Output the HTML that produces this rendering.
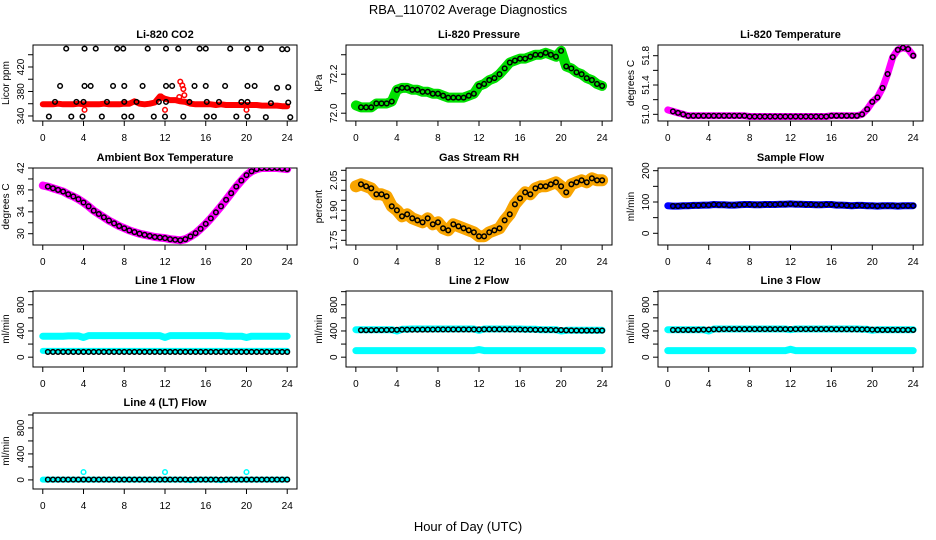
<!DOCTYPE html>
<html><head><meta charset="utf-8">
<style>
html,body{margin:0;padding:0;background:#fff;}
svg{display:block;font-family:"Liberation Sans",Arial,sans-serif;}
</style></head>
<body>
<svg id="chart" width="936" height="540" viewBox="0 0 936 540" xmlns="http://www.w3.org/2000/svg">
<text x="468" y="14" text-anchor="middle" font-size="13">RBA_110702  Average Diagnostics</text>
<text x="468" y="531" text-anchor="middle" font-size="13">Hour of Day (UTC)</text>
</svg>
<script>
// ---- data ----
const hours = [0,0.5,1,1.5,2,2.5,3,3.5,4,4.5,5,5.5,6,6.5,7,7.5,8,8.5,9,9.5,10,10.5,11,11.5,12,12.5,13,13.5,14,14.5,15,15.5,16,16.5,17,17.5,18,18.5,19,19.5,20,20.5,21,21.5,22,22.5,23,23.5,24];
const xTicks = [0,4,8,12,16,20,24];

const co2Red = [359,359,359,360,359,359,359,360,359,359,359,359,360,359,359,359,360,360,364,360,359,360,362,372,368,366,366,364,363,360,359,359,359,359,358,359,358,358,358,358,358,358,358,357,357,357,357,356,356];
const co2RedOutHours = [4.1,12.0,20.0,13.5,13.7,13.8,13.4,13.9,11.6];
const co2RedOutVals = [350,350,350,396,390,384,371,374,372];
const co2BlkHours = [2.3,4.1,5.2,7.3,7.9,10.3,12.1,13.3,15.4,16.0,18.4,20.1,21.4,23.5,24.0,
 1.7,4.1,4.7,6.9,8.0,9.8,12.1,12.7,14.9,16.0,17.9,20.1,20.8,23.0,24.1,
 1.2,3.3,4.0,6.3,8.0,9.2,11.4,12.1,14.4,16.1,17.3,19.5,20.1,22.4,24.1,
 0.6,2.8,3.9,5.8,8.0,8.7,10.9,12.0,13.8,16.1,16.8,19.0,20.1,21.9,24.3];
const co2BlkVals = [450,450,450,450,450,450,450,450,450,450,450,450,450,449,449,
 389,389,389,389,389,389,389,389,389,389,389,389,389,386,387,
 363,363,363,363,363,363,363,363,363,363,363,363,363,361,362,
 339,339,339,339,339,339,339,339,339,339,339,339,339,338,338];

const pressVals = [72.04,72.03,72.03,72.03,72.05,72.05,72.05,72.06,72.12,72.13,72.13,72.12,72.12,72.11,72.11,72.10,72.10,72.09,72.08,72.08,72.08,72.08,72.09,72.10,72.14,72.15,72.17,72.18,72.20,72.23,72.26,72.27,72.28,72.28,72.29,72.30,72.30,72.31,72.30,72.29,72.32,72.24,72.23,72.21,72.20,72.18,72.17,72.15,72.14];
const licorTempVals = [51.06,51.04,51.02,51.00,50.98,50.98,50.98,50.98,50.98,50.98,50.98,50.98,50.98,50.98,50.98,50.98,50.97,50.97,50.97,50.97,50.97,50.97,50.97,50.97,50.97,50.97,50.97,50.97,50.97,50.97,50.97,50.97,50.98,50.98,50.98,50.98,50.98,50.98,51.00,51.07,51.17,51.23,51.36,51.55,51.78,51.88,51.91,51.89,51.80];
const ambientVals = [38.8,38.6,38.3,38.0,37.7,37.2,36.8,36.3,35.7,35.0,34.2,33.6,33.0,32.4,31.9,31.4,31.0,30.6,30.3,30.0,29.8,29.6,29.4,29.3,29.2,29.0,28.9,28.8,29.0,29.5,30.1,30.9,31.8,32.8,33.9,35.0,36.2,37.4,38.6,39.7,40.7,41.4,41.8,42.0,42.0,42.0,42.0,41.9,41.8];
const rhVals = [2.02,2.03,2.02,2.01,1.98,1.98,1.97,1.92,1.90,1.87,1.88,1.86,1.85,1.84,1.86,1.83,1.84,1.81,1.80,1.83,1.82,1.81,1.80,1.79,1.77,1.77,1.79,1.80,1.81,1.85,1.88,1.93,1.96,1.99,1.98,2.01,2.02,2.02,2.03,2.04,2.02,1.99,2.03,2.04,2.05,2.04,2.06,2.05,2.05];
const sampleVals = [88,87,87,88,88,89,89,90,90,92,91,91,90,90,91,92,92,91,91,92,92,92,93,93,94,93,93,92,92,91,91,92,92,90,90,89,88,89,89,88,88,87,88,88,88,87,88,88,88];
const line1Upper = [320,320,320,320,320,325,325,325,300,330,330,330,330,330,330,330,330,330,330,330,330,330,330,330,300,330,330,330,330,330,330,330,330,330,330,330,320,320,320,320,300,320,320,320,320,320,320,320,320];
const line1Lower = [95,95,95,95,95,95,95,95,95,95,95,95,95,95,95,95,95,95,95,95,95,95,95,95,95,95,95,95,95,95,95,95,95,95,95,95,95,95,95,95,95,95,95,95,95,95,95,95,95];
const line1Blk = [80,80,80,80,80,80,80,80,80,80,80,80,80,80,80,80,80,80,80,80,80,80,80,80,80,80,80,80,80,80,80,80,80,80,80,80,80,80,80,80,80,80,80,80,80,80,80,80,80];
const line2Upper = [420,420,420,420,420,420,420,420,400,425,425,430,430,430,430,430,430,430,430,430,430,430,430,430,410,430,430,430,430,430,430,430,430,425,425,425,420,420,420,420,400,410,410,410,410,410,410,410,410];
const line2Blk = [415,412,412,412,414,414,415,416,418,420,420,420,420,421,421,422,423,423,423,423,423,423,423,423,423,425,425,425,425,424,423,422,422,420,420,418,417,416,415,414,414,410,408,407,406,406,406,406,406];
const line2Lower = [100,100,100,100,100,100,100,100,100,100,100,100,100,100,100,100,100,100,100,100,100,100,100,100,115,100,100,100,100,100,100,100,100,100,100,100,100,100,100,100,100,100,100,100,100,100,100,100,100];
const line3Upper = [420,420,420,420,420,420,420,420,400,430,430,430,430,430,430,430,430,430,430,430,430,430,430,430,420,430,430,430,430,430,430,430,430,430,430,430,430,430,425,425,410,420,420,420,420,420,420,420,420];
const line3Blk = [420,415,415,415,416,416,418,420,422,425,425,428,428,428,428,428,428,428,428,428,428,428,428,428,428,428,428,428,428,428,428,428,428,426,426,426,425,425,424,424,420,418,416,416,416,416,416,416,416];
const line3Lower = [100,100,100,100,100,100,100,100,100,100,100,100,100,100,100,100,100,100,100,100,100,100,100,100,120,100,100,100,100,100,100,100,100,100,100,100,100,100,100,100,100,100,100,100,100,100,100,100,100];
const line4Cyan = [5,5,5,5,5,5,5,5,5,5,5,5,5,5,5,5,5,5,5,5,5,5,5,5,5,5,5,5,5,-5,5,5,5,5,5,-5,5,5,5,5,5,5,5,5,5,5,5,5,5];
const line4Blk = [5,5,5,5,5,5,5,5,5,5,5,5,5,5,5,5,5,5,5,5,5,5,5,5,5,5,5,5,5,5,5,5,5,5,5,5,5,5,5,5,5,5,5,5,5,5,5,5,5];
const line4OutHours = [4,12,20];
const line4OutVals = [120,120,120];

// ---- layout ----
const NS = "http://www.w3.org/2000/svg";
const svg = document.getElementById('chart');
const cols = [[33,297],[346,612],[658,923]];
const rows = [[45,121],[168,245],[291,367],[413,489]];

function mk(tag, attrs, parent){
  const e = document.createElementNS(NS, tag);
  for (const k in attrs) e.setAttribute(k, attrs[k]);
  (parent||svg).appendChild(e);
  return e;
}

function panel(name, title, ylab, c, r, ylim, yTicks, yLabels){
  const [x0,x1] = cols[c], [y0,y1] = rows[r];
  const g = mk('g', {});
  
  
  const pad = (x1-x0)/ (24*1.08) * 24*0.04;
  const xs = h => x0 + pad + (h/24)*((x1-x0)-2*pad);
  const ys = v => y1 - (v-ylim[0])/(ylim[1]-ylim[0])*(y1-y0);
  const box = mk('rect', {x:x0, y:y0, width:x1-x0, height:y1-y0, fill:'none', stroke:'#000', 'stroke-width':1}, g);
  
  
  const t = mk('text', {x:(x0+x1)/2, y:y0-7, 'text-anchor':'middle', 'font-size':11, 'font-weight':'bold'}, g);
  t.textContent = title;
  
  
  const xa = mk('g', {}, g);
  
  
  mk('line', {x1:xs(0), x2:xs(24), y1:y1, y2:y1, stroke:'#000'}, xa);
  xTicks.forEach(h=>{
    mk('line', {x1:xs(h), x2:xs(h), y1:y1, y2:y1+5, stroke:'#000'}, xa);
    const tl = mk('text', {x:xs(h), y:y1+20, 'text-anchor':'middle', 'font-size':10}, xa);
    tl.textContent = h;
    
    
  });
  const ya = mk('g', {}, g);
  
  
  mk('line', {x1:x0, x2:x0, y1:ys(yTicks[0]), y2:ys(yTicks[yTicks.length-1]), stroke:'#000'}, ya);
  yTicks.forEach(v=>{
    mk('line', {x1:x0-5, x2:x0, y1:ys(v), y2:ys(v), stroke:'#000'}, ya);
  });
  yLabels.forEach(v=>{
    const lx = x0-9, ly = ys(v);
    const tl = mk('text', {x:lx, y:ly, 'text-anchor':'middle', 'font-size':10, transform:`rotate(-90 ${lx} ${ly})`}, ya);
    tl.textContent = v;
    
    
  });
  const yl = x0-24, yy = (y0+y1)/2;
  const yt = mk('text', {x:yl, y:yy, 'text-anchor':'middle', 'font-size':10, transform:`rotate(-90 ${yl} ${yy})`}, g);
  yt.textContent = ylab;
  
  
  const clip = 'clip-' + name;
  const cp = mk('clipPath', {id:clip}, g);
  mk('rect', {x:x0, y:y0, width:x1-x0, height:y1-y0}, cp);
  const plot = mk('g', {'clip-path':`url(#${clip})`}, g);
  return {xs, ys, plot};
}

function band(p, name, hs, vals, color, w){
  const pts = hs.map((h,i)=>p.xs(h).toFixed(1)+','+p.ys(vals[i]).toFixed(1)).join(' ');
  const pl = mk('polyline', {points:pts, fill:'none', stroke:color, 'stroke-width':w, 'stroke-linecap':'round', 'stroke-linejoin':'round'}, p.plot);
  
  
}
function circles(p, name, hs, vals, color, skipFirst){
  const g = mk('g', {}, p.plot);
  
  
  hs.forEach((h,i)=>{
    if (skipFirst && i===0) return;
    mk('circle', {cx:p.xs(h), cy:p.ys(vals[i]), r:2.3, fill:'none', stroke:color, 'stroke-width':1.5}, g);
  });
}

let p = panel('co2', 'Li-820 CO2', 'Licor ppm', 0, 0, [331.8,455.9], [340,360,380,400,420,440], [340,380,420]);
band(p, 'co2-red-series', hours, co2Red, '#ff0000', 6);
circles(p, 'co2-red-outliers', co2RedOutHours, co2RedOutVals, '#ff0000');
circles(p, 'co2-black-points', co2BlkHours, co2BlkVals, '#000');

p = panel('pressure', 'Li-820 Pressure', 'kPa', 1, 0, [71.96,72.35], [72.0,72.1,72.2,72.3], ['72.0','72.2']);
band(p, 'pressure-green-series', hours, pressVals, '#00e000', 10);
circles(p, 'pressure-black-points', hours, pressVals, '#000', true);

p = panel('licor-temp', 'Li-820 Temperature', 'degrees C', 2, 0, [50.909,51.946], [51.0,51.2,51.4,51.6,51.8], ['51.0','51.4','51.8']);
band(p, 'licor-temp-magenta-series', hours, licorTempVals, '#ff00ff', 7);
circles(p, 'licor-temp-black-points', hours, licorTempVals, '#000', true);

p = panel('ambient', 'Ambient Box Temperature', 'degrees C', 0, 1, [27.94,42.0], [30,32,34,36,38,40,42], [30,34,38,42]);
band(p, 'ambient-magenta-series', hours, ambientVals, '#ff00ff', 8);
circles(p, 'ambient-black-points', hours, ambientVals, '#000', true);

p = panel('rh', 'Gas Stream RH', 'percent', 1, 1, [1.7265,2.1115], [1.75,1.80,1.85,1.90,1.95,2.00,2.05,2.10], ['1.75','1.90','2.05']);
band(p, 'rh-orange-series', hours, rhVals, '#f8a400', 12);
circles(p, 'rh-black-points', hours, rhVals, '#000', true);

p = panel('sample-flow', 'Sample Flow', 'ml/min', 2, 1, [-37.4,208.6], [0,50,100,150,200], [0,100,200]);
band(p, 'sample-flow-blue-series', hours, sampleVals, '#0000ff', 7);
circles(p, 'sample-flow-black-points', hours, sampleVals, '#000', true);

const fT = [0,200,400,600,800,1000], fL = [0,400,800];
p = panel('line1', 'Line 1 Flow', 'ml/min', 0, 2, [-150,1010], fT, fL);
band(p, 'line1-cyan-upper', hours, line1Upper, '#00ffff', 7);
band(p, 'line1-cyan-lower', hours, line1Lower, '#00ffff', 6);
circles(p, 'line1-black-points', hours, line1Blk, '#000', true);

p = panel('line2', 'Line 2 Flow', 'ml/min', 1, 2, [-150,1010], fT, fL);
band(p, 'line2-cyan-upper', hours, line2Upper, '#00ffff', 7);
band(p, 'line2-cyan-lower', hours, line2Lower, '#00ffff', 7);
circles(p, 'line2-black-points', hours, line2Blk, '#000', true);

p = panel('line3', 'Line 3 Flow', 'ml/min', 2, 2, [-150,1010], fT, fL);
band(p, 'line3-cyan-upper', hours, line3Upper, '#00ffff', 7);
band(p, 'line3-cyan-lower', hours, line3Lower, '#00ffff', 7);
circles(p, 'line3-black-points', hours, line3Blk, '#000', true);

p = panel('line4', 'Line 4 (LT) Flow', 'ml/min', 0, 3, [-140,1030], fT, fL);
band(p, 'line4-cyan-series', hours, line4Cyan, '#00ffff', 6);
circles(p, 'line4-cyan-outliers', line4OutHours, line4OutVals, '#00ffff');
circles(p, 'line4-black-points', hours, line4Blk, '#000', true);
</script>
</body></html>
